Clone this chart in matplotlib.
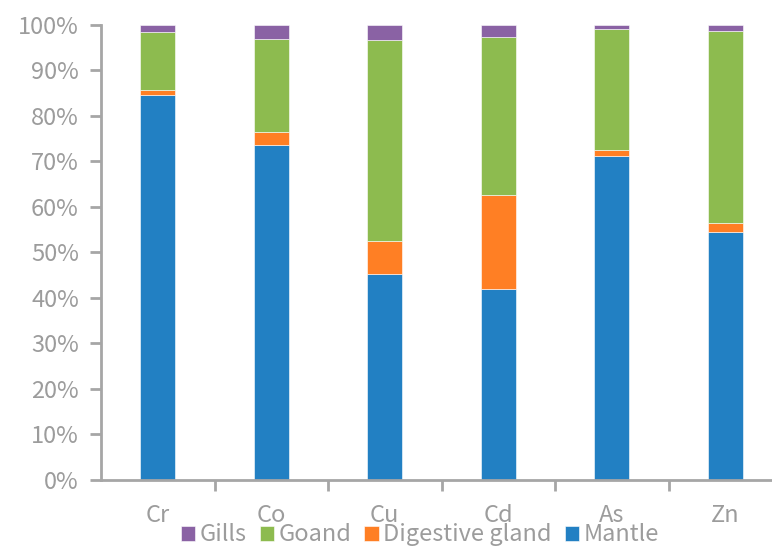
import numpy as np
import matplotlib.pyplot as plt

plt.rcParams['font.family'] = ['Noto Sans CJK SC', 'DejaVu Sans']

metals = ["Cr", "Co", "Cu", "Cd", "As", "Zn"]
mantle = [84.5, 73.7, 45.2, 41.9, 71.3, 54.4]
digestive = [1.1, 2.8, 7.3, 20.8, 1.2, 2.1]
goand = [12.9, 20.3, 44.2, 34.7, 26.6, 42.2]
gills = [1.5, 3.2, 3.3, 2.6, 0.9, 1.3]

series = [
    ("Mantle", mantle, "#2280C3"),
    ("Digestive gland", digestive, "#FF7F24"),
    ("Goand", goand, "#8DBB4F"),
    ("Gills", gills, "#8A62A4"),
]

grey = "#A6A6A6"
text_grey = "#9C9C9C"

fig = plt.figure(figsize=(7.72, 5.47), dpi=100)
ax = fig.add_axes([101 / 772, 0.1225, 681 / 772, 0.832])

x = np.arange(len(metals))
bottom = np.zeros(len(metals))
handles = {}
for name, vals, color in series:
    vals = np.array(vals, dtype=float)
    b = ax.bar(x, vals, 0.31, bottom=bottom, color=color,
               edgecolor="white", linewidth=0.4, label=name)
    handles[name] = b
    bottom += vals

ax.set_xlim(-0.5, len(metals) - 0.5)
ax.set_ylim(0, 100)
ax.set_yticks(np.arange(0, 101, 10))
ax.set_yticklabels([f"{v}%" for v in range(0, 101, 10)])
ax.set_xticks(x)
ax.set_xticklabels(metals)
ax.set_xticks(np.arange(0.5, len(metals) - 0.5, 1), minor=True)

for s in ["top", "right"]:
    ax.spines[s].set_visible(False)
for s in ["left", "bottom"]:
    ax.spines[s].set_color(grey)
    ax.spines[s].set_linewidth(2)

ax.tick_params(axis="y", direction="out", length=8, width=2, color=grey,
               labelcolor=text_grey, labelsize=17, pad=8)
ax.tick_params(axis="x", which="major", length=0, labelcolor=text_grey,
               labelsize=17, pad=17)
ax.tick_params(axis="x", which="minor", direction="out", length=8, width=2,
               color=grey)

order = ["Gills", "Goand", "Digestive gland", "Mantle"]
leg = fig.legend([handles[n] for n in order], order, loc="center",
                 bbox_to_anchor=(0.544, 0.022), ncol=4, frameon=False,
                 fontsize=17, handlelength=0.6, handleheight=0.6,
                 handletextpad=0.2, columnspacing=0.55, borderpad=0)
for t in leg.get_texts():
    t.set_color(text_grey)

fig.savefig("out.png", dpi=100)
